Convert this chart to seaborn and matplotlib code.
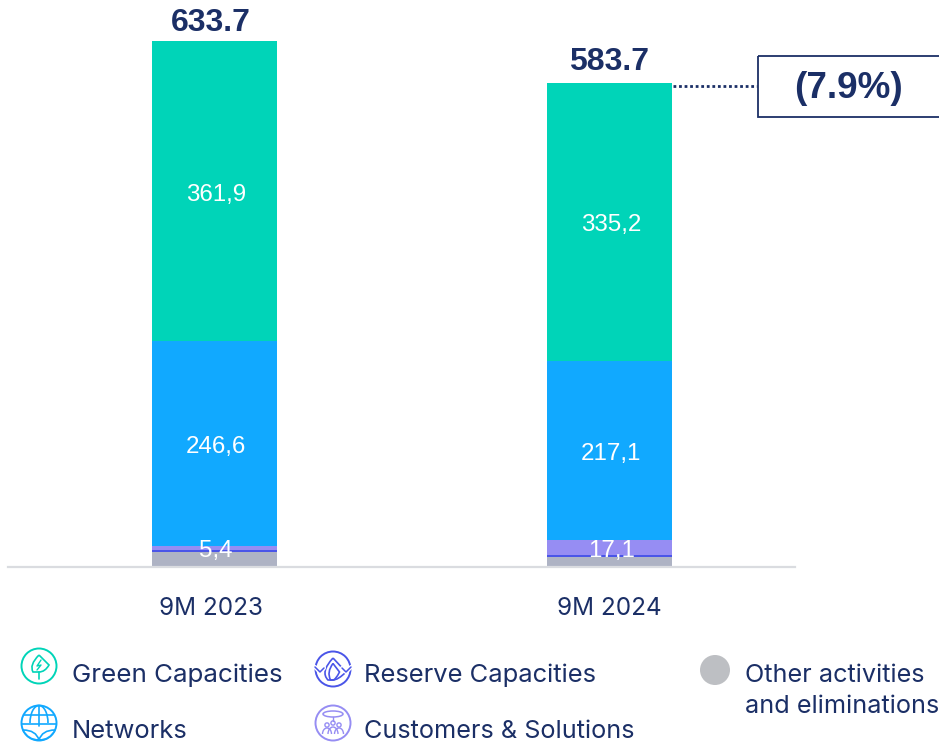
import numpy as np
import pandas as pd
import seaborn as sns
import matplotlib.pyplot as plt
from matplotlib.patches import Arc, Circle, Rectangle, PathPatch, Ellipse
from matplotlib.path import Path
from matplotlib.transforms import ScaledTranslation

periods = ["9M 2023", "9M 2024"]
other = [18.0, 12.0]
reserve = [1.8, 2.3]
customers = [5.4, 17.1]
networks = [246.6, 217.1]
green = [361.9, 335.2]
totals = [633.7, 583.7]
change = "(7.9%)"

series_names = ["Other activities\nand eliminations", "Reserve Capacities", "Customers & Solutions", "Networks", "Green Capacities"]
series_values = [other, reserve, customers, networks, green]
series_colors = ["#AEB3C4", "#4A55E8", "#968DF3", "#11A9FF", "#00D4B8"]
# labels as printed on the slide
segment_labels = {2: ["5,4", "17,1"], 3: ["246,6", "217,1"], 4: ["361,9", "335,2"]}

NAVY = "#1B2F66"
W, H = 939, 742
BASE = 566.5

sns.set_theme(style="white")
plt.rcParams["font.family"] = ["Inter", "DejaVu Sans"]

fig = plt.figure(figsize=(W / 100, H / 100), dpi=100)
ax = fig.add_axes([8 / W, 1 - BASE / H, 787 / W, BASE / H])

bottom = np.zeros(2)
for i, (vals, col) in enumerate(zip(series_values, series_colors)):
    df = pd.DataFrame({"period": periods, "value": vals})
    sns.barplot(data=df, x="period", y="value", color=col, saturation=1, width=125 / 395,
                bottom=bottom, ax=ax, linewidth=0)
    if i in segment_labels:
        for j, lab in enumerate(segment_labels[i]):
            ax.annotate(lab, (j, bottom[j] + vals[j] / 2), xytext=(1.2, -2.4), textcoords="offset points",
                        ha="center", va="center", color="white", fontsize=17.4, family="Liberation Sans")
    bottom = bottom + np.array(vals)

# first total sits a little left of its bar on the slide
total_offsets = [(-2.8, 2.2), (0, 4)]
for j, t in enumerate(totals):
    ax.annotate(f"{t:.1f}", (j, t), xytext=total_offsets[j], textcoords="offset points", ha="center", va="bottom",
                color=NAVY, fontsize=23, fontweight="bold", family="Liberation Sans", annotation_clip=False)

ax.set_xlim(-206.5 / 395, 580.5 / 395)
ax.set_ylim(0, BASE / 0.8285)
ax.set_xlabel("")
ax.set_ylabel("")
ax.set_yticks([])
ax.tick_params(axis="x", length=0, pad=22, labelsize=17.5, labelcolor=NAVY)
first = ax.get_xticklabels()[0]
first.set_transform(first.get_transform() + ScaledTranslation(-3.5 / 100, 0, fig.dpi_scale_trans))
sns.despine(ax=ax, left=True)
ax.spines["bottom"].set_color("#DADCE0")
ax.spines["bottom"].set_linewidth(1.6)
ax.patch.set_alpha(0)

# overlay in pixel coordinates for callout and legend
ov = fig.add_axes([0, 0, 1, 1], zorder=5)
ov.set_xlim(0, W)
ov.set_ylim(H, 0)
ov.axis("off")

ov.plot([673, 757], [85.5, 85.5], color=NAVY, lw=2, ls=(0, (1, 1)))
ov.add_patch(Rectangle((758, 56), 190, 61, fill=False, ec=NAVY, lw=1.3))
ov.text(849, 88, change, ha="center", va="center", color=NAVY, fontsize=26.6, fontweight="bold", family="Liberation Sans")


def ring(cx, cy, col, r=17.5):
    ov.add_patch(Circle((cx, cy), r, fill=False, ec=col, lw=1.4))


def icon_green(cx, cy, col):
    ring(cx, cy, col)
    drop = Path([(cx, cy - 11), (cx - 10, cy - 1), (cx - 6, cy + 6), (cx, cy + 6), (cx + 6, cy + 6), (cx + 10, cy - 1), (cx, cy - 11)],
                [Path.MOVETO, Path.CURVE3, Path.CURVE3, Path.LINETO, Path.CURVE3, Path.CURVE3, Path.LINETO])
    ov.add_patch(PathPatch(drop, fill=False, ec=col, lw=1.2))
    ov.plot([cx, cx], [cy + 6, cy + 13], color=col, lw=1.2)
    ov.plot([cx + 2, cx - 2, cx + 2, cx - 2], [cy - 6, cy, cy - 1, cy + 4], color=col, lw=1)


def icon_networks(cx, cy, col):
    ring(cx, cy, col)
    ov.add_patch(Arc((cx, cy), 18, 35, theta1=180, theta2=360, ec=col, lw=1.2))
    ov.plot([cx - 15, cx + 15], [cy - 8, cy - 8], color=col, lw=1.2)
    ov.plot([cx - 17, cx + 17], [cy + 1, cy + 1], color=col, lw=1.2)
    ov.plot([cx, cx], [cy - 17, cy + 3], color=col, lw=1.2)
    for s in (-1, 1):
        leaf = Path([(cx, cy + 17), (cx + s * 3, cy + 7), (cx + s * 16, cy + 7), (cx + s * 11, cy + 17), (cx, cy + 17)],
                    [Path.MOVETO, Path.CURVE3, Path.CURVE3, Path.CURVE3, Path.CURVE3])
        ov.add_patch(PathPatch(leaf, fc="white", ec=col, lw=1.2))


def icon_reserve(cx, cy, col):
    ring(cx, cy, col)
    ov.plot([cx - 18, cx - 13, cx - 9], [cy - 2, cy + 3, cy - 1], color="white", lw=3)
    ov.plot([cx + 18, cx + 13, cx + 9], [cy - 2, cy + 3, cy - 1], color="white", lw=3)
    ov.plot([cx - 18, cx - 13, cx - 9], [cy - 2, cy + 3, cy - 1], color=col, lw=1.1)
    ov.plot([cx + 18, cx + 13, cx + 9], [cy - 2, cy + 3, cy - 1], color=col, lw=1.1)
    for s in (1, 0.5):
        flame = Path([(cx, cy - 11 * s), (cx - 13 * s, cy + 3), (cx - 5 * s, cy + 11), (cx, cy + 11), (cx + 5 * s, cy + 11), (cx + 13 * s, cy + 3), (cx, cy - 11 * s)],
                     [Path.MOVETO, Path.CURVE3, Path.CURVE3, Path.LINETO, Path.CURVE3, Path.CURVE3, Path.LINETO])
        ov.add_patch(PathPatch(flame, fill=False, ec=col, lw=1.2))


def icon_customers(cx, cy, col):
    ring(cx, cy, col)
    ov.add_patch(Ellipse((cx, cy - 9), 20, 6, fill=False, ec=col, lw=1.1))
    ov.plot([cx, cx], [cy - 6, cy - 2], color=col, lw=1)
    for dx, dy in [(-6, 2), (0, 0), (6, 2)]:
        ov.add_patch(Circle((cx + dx, cy + dy), 2.1, fill=False, ec=col, lw=1))
    ov.add_patch(Arc((cx - 6, cy + 11), 9, 12, theta1=180, theta2=360, ec=col, lw=1))
    ov.add_patch(Arc((cx + 6, cy + 11), 9, 12, theta1=180, theta2=360, ec=col, lw=1))
    ov.add_patch(Arc((cx, cy + 11), 10, 14, theta1=180, theta2=360, ec=col, lw=1))


icon_green(39, 666, series_colors[4])
icon_networks(39, 723, series_colors[3])
icon_reserve(333, 669, series_colors[1])
icon_customers(333, 723, series_colors[2])
ov.add_patch(Circle((715, 670), 15, fc="#BDBFC3", ec="none"))

leg_font = 18.4
ov.text(72, 675, series_names[4], va="center", color=NAVY, fontsize=18.7)
ov.text(72, 731, series_names[3], va="center", color=NAVY, fontsize=leg_font)
ov.text(364, 675, series_names[1], va="center", color=NAVY, fontsize=leg_font)
ov.text(364, 731, series_names[2], va="center", color=NAVY, fontsize=18.2)
ov.text(745, 691, series_names[0], va="center", color=NAVY, fontsize=18.2, linespacing=1.42)

fig.savefig("out.png", dpi=100)
